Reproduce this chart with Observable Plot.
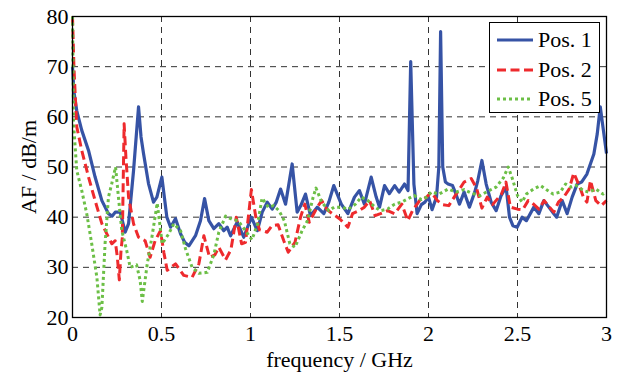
<!DOCTYPE html>
<html><head><meta charset="utf-8">
<script src="https://cdn.jsdelivr.net/npm/d3@7"></script>
<script src="https://cdn.jsdelivr.net/npm/@observablehq/plot@0.6"></script>
<style>
body{margin:0;background:#fff;}
#wrap{position:relative;width:617px;height:372px;overflow:hidden;}
#legend{position:absolute;left:489px;top:22px;width:111px;height:91px;box-sizing:border-box;border:1.4px solid #000;background:#fff;font-family:"Liberation Serif",serif;font-size:22px;color:#000;}
#legend .row{position:absolute;left:0;height:28px;display:flex;align-items:center;white-space:nowrap;}
#legend svg{margin-left:7px;margin-right:5px;}
</style></head>
<body><div id="wrap"></div>
<script>
const xTicks = [0, 0.5, 1, 1.5, 2, 2.5, 3];
const yTicks = [20, 30, 40, 50, 60, 70, 80];
const seriesNames = ["Pos. 1", "Pos. 2", "Pos. 5"];
const seriesColors = ["#3653a5", "#ee2a2d", "#6cbf46"];
const seriesDash = [null, "9,4.5", "3,3"];

// Pos. 1 : [frequency GHz, AF dB/m]
const pos1 = [[0,70],[0.008,65],[0.024,61.2],[0.052,57.3],[0.09,53.3],[0.127,48],[0.165,43.3],[0.202,40.7],[0.222,40.2],[0.24,41],[0.268,41],[0.296,37],[0.315,38.7],[0.343,49.3],[0.371,62],[0.385,56],[0.399,52.7],[0.427,46.7],[0.455,43],[0.474,44],[0.502,48],[0.53,40],[0.551,38],[0.579,39.7],[0.607,36.7],[0.63,35],[0.654,34.3],[0.691,36.3],[0.719,39.3],[0.742,43.7],[0.766,39.3],[0.794,37.7],[0.822,38.7],[0.85,37.3],[0.869,38],[0.888,36.3],[0.925,39],[0.962,36],[1.005,40],[1.038,37.3],[1.066,41],[1.094,43],[1.122,41.6],[1.145,43],[1.169,45.6],[1.197,42.6],[1.234,50.6],[1.262,41],[1.285,42.5],[1.309,44.6],[1.337,40.3],[1.375,42],[1.412,40.7],[1.44,43],[1.468,46.3],[1.51,42.6],[1.547,40.7],[1.584,44],[1.612,45.3],[1.64,42.6],[1.678,48],[1.706,44],[1.725,42],[1.753,46.3],[1.78,44.7],[1.81,46.3],[1.835,45],[1.865,46.6],[1.885,45.3],[1.9,71],[1.918,46.6],[1.936,40.7],[1.96,42.5],[1.98,43],[2.0,44],[2.02,41.5],[2.045,44],[2.058,50],[2.068,77],[2.08,50],[2.095,47],[2.11,46.6],[2.135,46.3],[2.15,45],[2.174,42.6],[2.2,45],[2.23,42],[2.26,45],[2.277,47.3],[2.3,51.3],[2.324,46.6],[2.352,43],[2.38,41.3],[2.408,44.3],[2.436,46],[2.455,40],[2.474,38.3],[2.498,38],[2.526,40],[2.55,39.3],[2.592,42],[2.62,40.7],[2.648,43.3],[2.676,42],[2.704,40.7],[2.72,40],[2.751,43.3],[2.779,40.7],[2.807,44],[2.835,46.6],[2.86,47],[2.89,48.6],[2.929,52.6],[2.948,56.6],[2.965,62],[2.98,58],[3.0,52.7]];

// Pos. 2
const pos2 = [[0,80],[0.008,70],[0.015,64.6],[0.024,58],[0.052,53.3],[0.09,48],[0.127,43.3],[0.165,38.7],[0.202,36],[0.221,34.7],[0.24,35.3],[0.252,32],[0.263,27.5],[0.272,33],[0.28,36],[0.29,58.6],[0.3,52],[0.315,44],[0.343,38.7],[0.371,36],[0.408,35.3],[0.436,32],[0.464,35.3],[0.494,37.3],[0.513,33],[0.532,29.4],[0.579,30.7],[0.625,28.4],[0.672,28],[0.71,30.7],[0.738,36.3],[0.77,32],[0.8,32.5],[0.822,34],[0.86,31.5],[0.89,33.5],[0.92,40],[0.95,34.7],[0.972,35],[1.005,45.5],[1.03,40],[1.05,37.5],[1.094,37],[1.12,38.3],[1.155,38.5],[1.187,35.3],[1.212,33],[1.25,35],[1.281,40],[1.305,42.6],[1.33,39],[1.375,42],[1.4,43.3],[1.43,41.5],[1.46,40.7],[1.5,39.7],[1.547,38],[1.573,40.7],[1.61,41.3],[1.64,42],[1.669,43.3],[1.7,40.3],[1.73,40.7],[1.77,41.3],[1.81,40.7],[1.85,42.6],[1.884,39.3],[1.91,41.3],[1.95,43.3],[1.99,44],[2.015,45],[2.05,43.3],[2.08,42.5],[2.114,42.3],[2.15,44.3],[2.2,47],[2.24,47.7],[2.27,45.8],[2.3,41.8],[2.33,44],[2.36,42.5],[2.41,44.6],[2.435,47],[2.46,42],[2.5,41.6],[2.53,41.5],[2.56,43.3],[2.59,42.6],[2.62,41.6],[2.65,43.3],[2.68,42],[2.704,41],[2.73,43],[2.76,44],[2.79,45.6],[2.816,48.8],[2.85,46],[2.87,44],[2.89,43],[2.91,47.3],[2.94,43.3],[2.97,42.3],[3.0,43.3]];

// Pos. 5
const pos5 = [[0,80],[0.006,58.6],[0.024,49.3],[0.052,45.3],[0.08,40.7],[0.108,34.7],[0.137,28],[0.155,20.5],[0.165,22],[0.183,34.7],[0.202,44],[0.22,46.6],[0.242,50],[0.258,44],[0.277,37.3],[0.305,33.3],[0.324,30],[0.36,30.5],[0.38,27.4],[0.392,23.2],[0.42,30.7],[0.446,36],[0.476,42.8],[0.504,34.7],[0.541,36.7],[0.569,38.7],[0.607,37.3],[0.635,33.7],[0.672,30],[0.71,28.8],[0.757,29],[0.794,32.5],[0.822,37],[0.86,40.2],[0.9,39.5],[0.93,39.3],[0.972,37.3],[1.008,35.5],[1.04,38.7],[1.065,43.8],[1.1,42],[1.13,42.3],[1.16,41.3],[1.19,39.3],[1.221,34.7],[1.25,34],[1.29,37.3],[1.32,39.3],[1.352,44],[1.368,45.8],[1.4,43],[1.44,41.3],[1.47,42],[1.51,42],[1.55,41.6],[1.59,42.6],[1.622,44],[1.66,43.3],[1.7,42],[1.73,41.3],[1.77,41.6],[1.81,42.6],[1.85,43],[1.88,43.6],[1.92,44.3],[1.96,43.5],[1.99,44],[2.015,45],[2.06,44.6],[2.11,45.6],[2.155,45],[2.2,45.5],[2.24,44.8],[2.29,44.3],[2.34,45.3],[2.38,46],[2.42,47.8],[2.448,50],[2.47,47.8],[2.5,44.3],[2.526,43],[2.55,44.6],[2.59,45.6],[2.63,46.3],[2.67,45.3],[2.7,44.6],[2.74,45],[2.77,46.6],[2.8,46],[2.83,46.3],[2.87,45.3],[2.9,45],[2.94,45.6],[2.98,44.6],[3.0,45]];

const allSeries = [pos1, pos2, pos5];
const tables = allSeries.map((s, i) => s.map(([f, v]) => ({f, v, s: seriesNames[i]})));

const lineMarks = tables.map((t, i) => Plot.line(t, {
  x: "f", y: "v",
  stroke: seriesColors[i],
  strokeWidth: i === 0 ? 3.2 : 3,
  strokeDasharray: seriesDash[i] || undefined,
  strokeLinecap: "butt",
  strokeLinejoin: "round"
}));

const chart = Plot.plot({
  width: 617, height: 372,
  marginLeft: 72, marginRight: 11, marginTop: 16, marginBottom: 55,
  style: {fontFamily: "'Liberation Serif', 'Times New Roman', serif", fontSize: "22px", color: "#000", background: "#fff", overflow: "visible"},
  x: {domain: [0, 3], ticks: xTicks, tickFormat: d => String(d), label: "frequency / GHz", labelAnchor: "center", labelArrow: "none", labelOffset: 49, tickSize: 0, tickPadding: 8},
  y: {domain: [20, 80], ticks: yTicks, tickFormat: d => String(d), label: "AF / dB/m", labelAnchor: "center", labelArrow: "none", labelOffset: 52, tickSize: 0, tickPadding: 4},
  marks: [
    Plot.gridX(xTicks.slice(1, -1), {stroke: "#333", strokeOpacity: 1, strokeWidth: 1, strokeDasharray: "6,5"}),
    Plot.gridY(yTicks.slice(1, -1), {stroke: "#333", strokeOpacity: 1, strokeWidth: 1, strokeDasharray: "6,5"}),
    ...lineMarks,
    Plot.frame({stroke: "#000", strokeWidth: 1.3})
  ]
});
const wrap = document.getElementById("wrap");
wrap.appendChild(chart);

// legend
const lg = document.createElement("div");
lg.id = "legend";
seriesNames.forEach((name, i) => {
  const row = document.createElement("div");
  row.className = "row";
  row.style.top = (3 + i * 29.5) + "px";
  const dash = seriesDash[i] ? ` stroke-dasharray="${seriesDash[i]}"` : "";
  row.innerHTML = `<svg width="36" height="10"><line x1="0" y1="5" x2="36" y2="5" stroke="${seriesColors[i]}" stroke-width="3"${dash}/></svg><span>${name}</span>`;
  lg.appendChild(row);
});
wrap.appendChild(lg);
</script>
</body></html>
